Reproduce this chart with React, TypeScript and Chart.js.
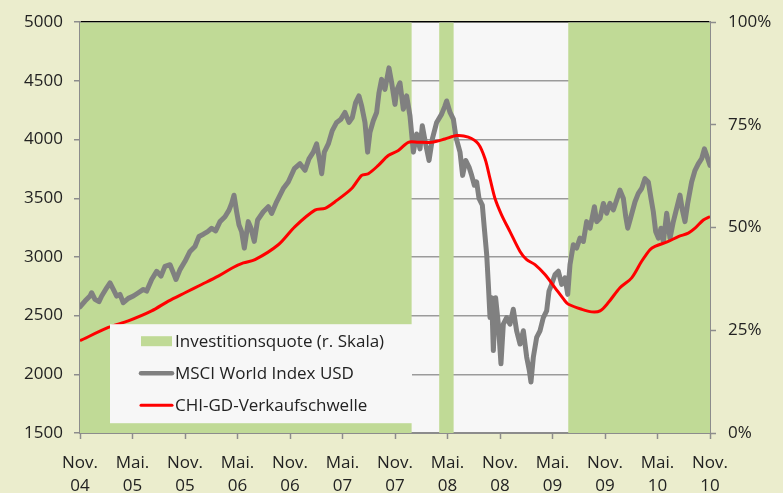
import React, { useEffect, useRef } from "react";
import { Chart, registerables } from "chart.js";

Chart.register(...registerables);

// ---- Data (x = months since Nov. 2004) ----
const xTickLabels = [
  ["Nov.", "04"], ["Mai.", "05"], ["Nov.", "05"], ["Mai.", "06"], ["Nov.", "06"],
  ["Mai.", "07"], ["Nov.", "07"], ["Mai.", "08"], ["Nov.", "08"], ["Mai.", "09"],
  ["Nov.", "09"], ["Mai.", "10"], ["Nov.", "10"],
];

const quoteMonths = [0, 37.9, 41.05, 42.7, 55.8, 72];
const quoteValues = [100, 0, 100, 0, 100, 100];

const msciMonths = [
  0, 0.57, 1.14, 1.33, 1.71, 2.17, 2.48, 3.05, 3.43, 3.81, 4.19, 4.57, 4.95, 5.52, 6.1, 6.67,
  7.24, 7.62, 8.19, 8.76, 9.26, 9.71, 10.29, 10.67, 10.97, 11.43, 12.0, 12.57, 13.14, 13.6,
  14.1, 14.59, 15.05, 15.5, 16.0, 16.57, 17.03, 17.33, 17.6, 17.9, 18.17, 18.47, 18.78, 19.23,
  19.54, 19.92, 20.3, 20.95, 21.52, 21.9, 22.47, 23.23, 23.8, 24.49, 25.14, 25.71, 26.17,
  26.66, 27.04, 27.42, 27.62, 27.92, 28.38, 28.83, 29.33, 29.82, 30.28, 30.74, 31.12, 31.5,
  31.88, 32.19, 32.57, 32.87, 33.14, 33.52, 33.9, 34.17, 34.47, 34.85, 35.31, 35.62, 36.0,
  36.2, 36.57, 36.95, 37.33, 37.71, 38.1, 38.48, 38.86, 39.12, 39.5, 39.89, 40.27, 40.76,
  41.33, 41.71, 41.9, 42.29, 42.67, 42.97, 43.43, 43.73, 44.08, 44.46, 44.76, 45.07, 45.33,
  45.6, 45.98, 46.21, 46.48, 46.67, 46.86, 47.05, 47.24, 47.5, 47.81, 48.11, 48.38, 48.76,
  49.14, 49.52, 49.9, 50.29, 50.67, 51.05, 51.35, 51.54, 51.81, 52.19, 52.57, 52.95, 53.33,
  53.6, 53.9, 54.29, 54.67, 55.05, 55.43, 55.74, 56.0, 56.38, 56.76, 57.14, 57.53, 57.9,
  58.29, 58.79, 59.05, 59.43, 59.81, 60.19, 60.57, 60.95, 61.33, 61.71, 62.1, 62.37, 62.6,
  62.86, 63.43, 63.81, 64.19, 64.57, 64.95, 65.26, 65.52, 65.79, 66.1, 66.4, 66.67, 67.05,
  67.43, 67.81, 68.19, 68.57, 68.84, 69.14, 69.45, 69.9, 70.29, 70.67, 71.05, 71.36, 71.62, 72.0,
];
const msciValues = [
  2574, 2624, 2667, 2695, 2639, 2619, 2667, 2737, 2780, 2723, 2667, 2681, 2610, 2647, 2667, 2695,
  2723, 2709, 2808, 2878, 2836, 2920, 2934, 2864, 2808, 2892, 2963, 3047, 3089, 3174,
  3194, 3216, 3244, 3222, 3301, 3343, 3399, 3456, 3526, 3385, 3273, 3216, 3075, 3301,
  3244, 3132, 3315, 3385, 3428, 3371, 3470, 3583, 3639, 3752, 3794, 3738, 3836,
  3893, 3963, 3808, 3709, 3893, 3963, 4076, 4146, 4174, 4231, 4146, 4188, 4315,
  4372, 4287, 4146, 3893, 4062, 4160, 4231, 4400, 4513, 4428, 4611, 4484, 4300,
  4420, 4484, 4259, 4372, 4203, 3893, 4048, 3921, 4118, 3963, 3822, 4005, 4146,
  4217, 4287, 4329, 4231, 4174, 4019, 3893, 3695, 3822, 3766, 3695, 3611, 3639,
  3498, 3442, 3245, 3019, 2765, 2484, 2653, 2202, 2653, 2427, 2089, 2427, 2484,
  2427, 2554, 2371, 2258, 2371, 2146, 2033, 1934, 2146, 2315, 2371, 2484, 2540,
  2709, 2765, 2850, 2878, 2766, 2822, 2681, 2935, 3104, 3076, 3160, 3132, 3301,
  3245, 3428, 3301, 3329, 3456, 3372, 3456, 3400, 3484, 3569, 3498, 3343, 3245,
  3315, 3470, 3541, 3583, 3667, 3639, 3498, 3386, 3217, 3160, 3245, 3132, 3372,
  3160, 3301, 3414, 3527, 3400, 3301, 3456, 3639, 3738, 3794, 3837, 3921, 3865, 3780,
];

const chiMonths = [
  0, 3.24, 5.52, 8.19, 10.1, 12, 13.9, 15.8, 17.5, 18.67, 20, 22.66, 24.57, 26.85, 28, 29.14,
  31.05, 32.19, 32.95, 34.09, 35.23, 36.38, 37.52, 38.67, 40.19, 41.71, 43.05, 44.38, 45.52,
  46.29, 46.86, 47.43, 48.19, 49.14, 50.29, 51.05, 52, 53.14, 54.29, 55.43, 55.81, 57.33,
  58.48, 59.43, 60.38, 61.71, 63.05, 64.19, 65.14, 65.71, 67.24, 68.38, 69.52, 70.29, 71.24, 72,
];
const chiValues = [
  2286, 2399, 2455, 2540, 2624, 2695, 2765, 2836, 2910, 2949, 2977, 3104, 3259, 3399, 3414, 3470,
  3583, 3695, 3709, 3780, 3864, 3907, 3977, 3977, 3977, 4005, 4034, 4020, 3963,
  3836, 3667, 3498, 3357, 3216, 3047, 2977, 2935, 2850, 2737, 2625, 2597, 2554,
  2532, 2540, 2611, 2738, 2822, 2963, 3062, 3090, 3132, 3174, 3203, 3245, 3315, 3343,
];

const seriesLabels = [
  "Investitionsquote (r. Skala)",
  "MSCI World Index USD",
  "CHI-GD-Verkaufschwelle",
];

const FONT = '"Open Sans", "DejaVu Sans", sans-serif';
const TEXT = "#222222";
const AXIS = "#8c8c8c";

const plotBgPlugin = {
  id: "plotBg",
  beforeDraw(chart: any) {
    const { ctx, chartArea } = chart;
    ctx.save();
    ctx.fillStyle = "#f7f7f7";
    ctx.fillRect(chartArea.left, chartArea.top, chartArea.right - chartArea.left, chartArea.bottom - chartArea.top);
    ctx.restore();
  },
};

const legendBoxPlugin = {
  id: "legendBox",
  afterDatasetsDraw(chart: any) {
    const { ctx, chartArea } = chart;
    const x0 = chartArea.left + 30;
    const y0 = chartArea.top + 302;
    const w = 302;
    const h = 99;
    ctx.save();
    ctx.fillStyle = "#f7f7f7";
    ctx.fillRect(x0, y0, w, h);
    ctx.font = `17px ${FONT}`;
    ctx.textBaseline = "middle";
    ctx.textAlign = "left";
    chart.data.datasets.forEach((ds: any, i: number) => {
      const cy = y0 + 17 + i * 32;
      const sx = x0 + 31;
      const ex = x0 + 62;
      if (i === 0) {
        ctx.fillStyle = ds.backgroundColor;
        ctx.fillRect(sx, cy - 5, ex - sx, 10);
      } else {
        ctx.strokeStyle = ds.borderColor;
        ctx.lineWidth = i === 1 ? 4.5 : 3;
        ctx.lineCap = "round";
        ctx.beginPath();
        ctx.moveTo(sx, cy);
        ctx.lineTo(ex, cy);
        ctx.stroke();
      }
      ctx.fillStyle = TEXT;
      ctx.fillText(ds.label, x0 + 65, cy + 1);
    });
    ctx.restore();
  },
};

export default function App() {
  const canvasRef = useRef<HTMLCanvasElement | null>(null);

  useEffect(() => {
    if (!canvasRef.current) return;
    const chart = new Chart(canvasRef.current, {
      type: "line",
      data: {
        datasets: [
          {
            label: seriesLabels[0],
            data: quoteMonths.map((m, i) => ({ x: m, y: quoteValues[i] })),
            yAxisID: "y1",
            stepped: "before",
            fill: "origin",
            backgroundColor: "#c0da96",
            borderColor: "rgba(0,0,0,0)",
            borderWidth: 0,
            pointRadius: 0,
            order: 3,
          },
          {
            label: seriesLabels[1],
            data: msciMonths.map((m, i) => ({ x: m, y: msciValues[i] })),
            yAxisID: "y",
            borderColor: "#808080",
            backgroundColor: "#808080",
            borderWidth: 5,
            borderJoinStyle: "round",
            borderCapStyle: "round",
            pointRadius: 0,
            tension: 0,
            fill: false,
            order: 2,
          },
          {
            label: seriesLabels[2],
            data: chiMonths.map((m, i) => ({ x: m, y: chiValues[i] })),
            yAxisID: "y",
            borderColor: "#ff0000",
            backgroundColor: "#ff0000",
            borderWidth: 3,
            borderJoinStyle: "round",
            pointRadius: 0,
            tension: 0.3,
            fill: false,
            order: 1,
          },
        ],
      },
      options: {
        responsive: false,
        animation: false,
        events: [],
        layout: { padding: { top: 19, left: 0, right: 0, bottom: 0 } },
        plugins: {
          legend: { display: false },
          tooltip: { enabled: false },
        },
        scales: {
          x: {
            type: "linear",
            min: 0,
            max: 72,
            afterFit: (s: any) => { s.height = 60; },
            grid: { drawOnChartArea: false, tickLength: 6, tickColor: AXIS, tickWidth: 1.5 },
            border: { color: AXIS, width: 2 },
            ticks: {
              stepSize: 6,
              autoSkip: false,
              maxRotation: 0,
              padding: 13,
              color: TEXT,
              font: { family: FONT, size: 17, lineHeight: 1.35 },
              callback: (v: any) => xTickLabels[Math.round(Number(v) / 6)],
            },
          },
          y: {
            position: "left",
            min: 1500,
            max: 5000,
            afterFit: (s: any) => { s.width = 80; },
            grid: {
              drawOnChartArea: true,
              color: (c: any) => (c.tick && c.tick.value === 5000 ? "#000000" : "#9b9b9b"),
              lineWidth: 1.5,
              tickLength: 6,
              tickColor: AXIS,
              tickWidth: 1.5,
            },
            border: { color: AXIS, width: 2 },
            ticks: {
              stepSize: 500,
              padding: 11,
              color: TEXT,
              font: { family: FONT, size: 17 },
              callback: (v: any) => String(v),
            },
          },
          y1: {
            position: "right",
            min: 0,
            max: 100,
            afterFit: (s: any) => { s.width = 73; },
            grid: { drawOnChartArea: false, tickLength: 6, tickColor: AXIS, tickWidth: 1.5 },
            border: { color: AXIS, width: 2 },
            ticks: {
              stepSize: 25,
              padding: 12,
              color: TEXT,
              font: { family: FONT, size: 17 },
              callback: (v: any) => `${v}%`,
            },
          },
        },
      } as any,
      plugins: [plotBgPlugin, legendBoxPlugin],
    });
    return () => chart.destroy();
  }, []);

  return (
    <div
      style={{
        position: "absolute",
        left: 0,
        top: 0,
        width: 783,
        height: 493,
        background: "#ebedcd",
      }}
    >
      <canvas ref={canvasRef} width={783} height={493} style={{ display: "block" }} />
    </div>
  );
}
